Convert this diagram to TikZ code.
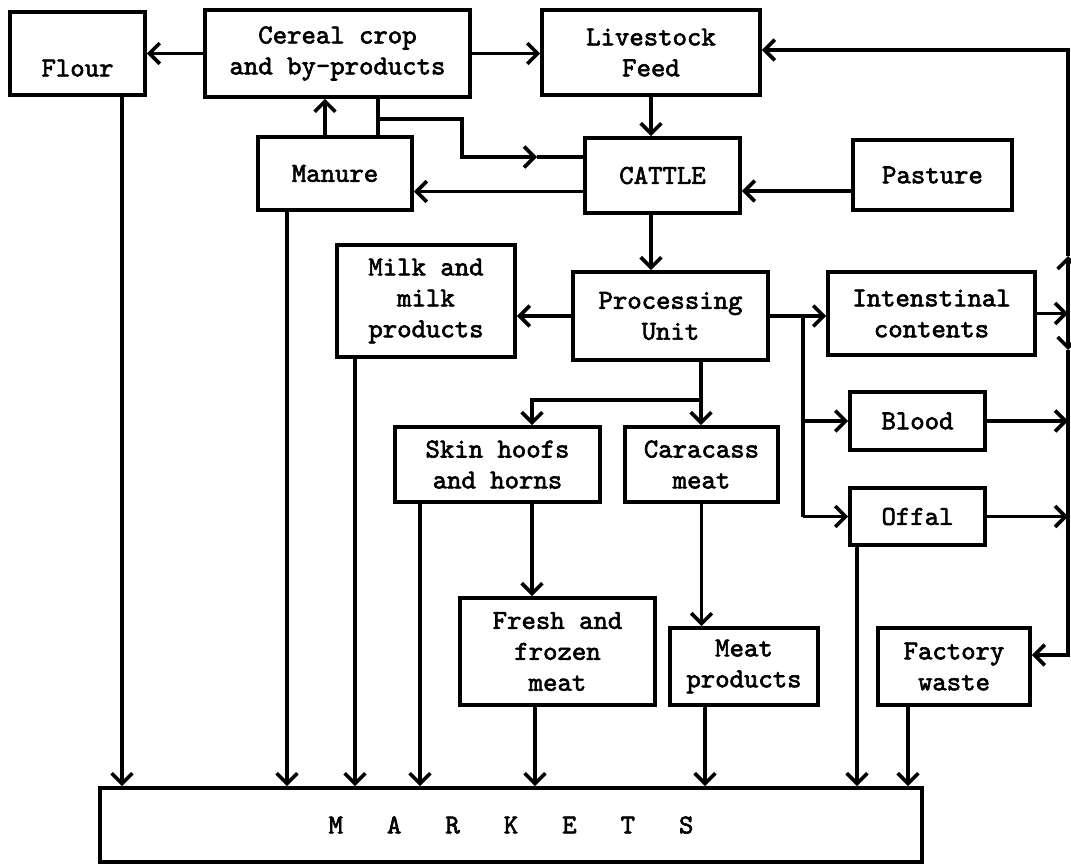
\documentclass[tikz,border=0pt]{standalone}
\usepackage{fontspec}
\newfontfamily\twfont{lmmono10-regular.otf}[FakeBold=2.2]
\usetikzlibrary{arrows.meta, calc}
\newcommand{\mktgap}{\hspace{1.1cm}}

\begin{document}
\begin{tikzpicture}[x=0.025cm, y=-0.025cm,
	box/.style={draw, line width=2.6pt, inner sep=0pt, align=center, font=\fontsize{19.5}{22}\selectfont\twfont\bfseries},
	sz/.style 2 args={minimum width=#1*0.025cm, minimum height=#2*0.025cm},
	arr/.style={line width=2.6pt, -{Straight Barb[length=2.6mm, width=5.2mm, line width=2.6pt]}},
	ln/.style={line width=2.6pt}]
					\useasboundingbox (0,0) rectangle (1071,866);

					\node[box, sz={135}{83}, text height=1.15cm] (flour) at (77.5,53.5) {Flour};
					\node[box, sz={265}{87}] (cereal) at (337.5,53.5) {Cereal crop\\and by-products};
					\node[box, sz={218}{85}] (feed) at (651,52.5) {Livestock\\Feed};
					\node[box, sz={154}{73}] (manure) at (335,173.5) {Manure};
					\node[box, sz={155}{75}] (cattle) at (662.5,175.5) {CATTLE};
					\node[box, sz={159}{70}] (pasture) at (932.5,175) {Pasture};
					\node[box, sz={178}{112}] (milk) at (426,301) {Milk and\\milk\\products};
					\node[box, sz={195}{88}] (proc) at (670.5,316) {Processing\\Unit};
					\node[box, sz={207}{83}] (intest) at (931.5,313.5) {Intenstinal\\contents};
					\node[box, sz={135}{58}] (blood) at (917.5,421) {Blood};
					\node[box, sz={205}{75}] (skin) at (497.5,464.5) {Skin hoofs\\and horns};
					\node[box, sz={153}{75}] (carc) at (701.5,464.5) {Caracass\\meat};
					\node[box, sz={135}{57}] (offal) at (917.5,516.5) {Offal};
					\node[box, sz={195}{107}] (fresh) at (557.5,651.5) {Fresh and\\frozen\\meat};
					\node[box, sz={148}{77}] (meatp) at (744,666.5) {Meat\\products};
					\node[box, sz={152}{77}] (factory) at (954,666.5) {Factory\\waste};
					\node[box, sz={822}{74}] (markets) at (511,825) {M\mktgap A\mktgap R\mktgap K\mktgap E\mktgap T\mktgap S};

					\coordinate (jn) at (378,119);
					\coordinate (bend) at (462,157);
					\coordinate (tipA) at (537,157);
					\coordinate (rj) at (803,316);
					\coordinate (pj) at (701,400);
					\coordinate (sk) at (532,400);
					\coordinate (tr) at (1068,50);
					\coordinate (up) at (1068,256);
					\coordinate (dn) at (1068,350);
					\coordinate (fw) at (1068,655);

					% top row
					\draw[arr] (cereal.west) -- (cereal.west -| flour.east);
					\draw[arr] (cereal.east) -- (cereal.east -| feed.west);
					\draw[arr] (feed.south) -- (feed.south |- cattle.north);
					\draw[arr] ([xshift=-0.25cm]manure.north) -- ([xshift=-0.25cm]manure.north |- cereal.south);
					\draw[ln] (cereal.south -| jn) -- (manure.north -| jn);
					\draw[arr] (jn) -| (bend) -- (tipA);
					\draw[ln] (tipA) -- (tipA -| cattle.west);
					\draw[arr] ([yshift=-0.4cm]cattle.west) -- ([yshift=-0.4cm]cattle.west -| manure.east);
					\draw[arr] ([yshift=-0.4cm]pasture.west) -- ([yshift=-0.4cm]pasture.west -| cattle.east);
					\draw[arr] (cattle.south -| feed.south) -- (proc.north -| feed.south);

					% processing
					\draw[arr] (proc.west) -- (proc.west -| milk.east);
					\draw[arr] (proc.east) -- (proc.east -| intest.west);
					\draw[ln] (rj) -- (rj |- offal.west);
					\draw[arr] (rj |- blood.west) -- (blood.west);
					\draw[arr] (rj |- offal.west) -- (offal.west);
					\draw[ln] (proc.south -| pj) -- (pj);
					\draw[arr] (pj) -- (pj |- carc.north);
					\draw[arr] (pj) -- (sk) -- (sk |- skin.north);
					\draw[arr] (sk |- skin.south) -- (sk |- fresh.north);
					\draw[arr] (carc.south) -- (carc.south |- meatp.north);

					% right return line
					\draw[arr] (intest.east) -- (intest.east -| tr);
					\draw[arr] (blood.east) -- (blood.east -| tr);
					\draw[arr] (offal.east) -- (offal.east -| tr);
					\draw[arr] (intest.east -| tr) -- (up);
					\draw[arr] (up) -- (tr) -- (tr -| feed.east);
					\draw[arr] (intest.east -| tr) -- (dn);
					\draw[arr] (dn) -- (fw) -- (fw -| factory.east);

					% to markets
					\foreach \n/\x in {flour/122, manure/287, milk/355, skin/420, fresh/535, meatp/705, offal/857, factory/908}
						\draw[arr] (\x,0 |- \n.south) -- (\x,0 |- markets.north);
\end{tikzpicture}
\end{document}
